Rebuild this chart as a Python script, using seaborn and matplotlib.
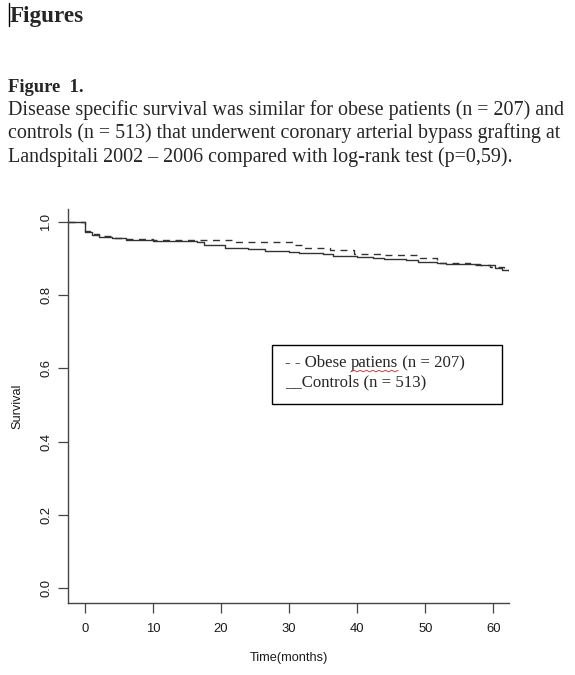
import numpy as np
import pandas as pd
import matplotlib
matplotlib.use("Agg")
import matplotlib.pyplot as plt
from matplotlib.lines import Line2D
from matplotlib.patches import Rectangle
import seaborn as sns

sns.set_theme(style="ticks")
plt.rcParams['font.family'] = ['Liberation Sans', 'DejaVu Sans']

# Kaplan-Meier step values
obese_time = [-2.5, 0, 0.7, 2, 4, 6, 10, 22, 30.5, 32, 36, 39.5, 44, 49.2, 51.7, 56.5, 59.5, 61.5, 62.3]
obese_surv = [1.0, 0.975, 0.967, 0.962, 0.957, 0.953, 0.951, 0.944, 0.936, 0.928, 0.922, 0.913, 0.909, 0.900, 0.888, 0.881, 0.876, 0.869, 0.868]

ctrl_time = [-2.5, 0, 1, 2, 4, 6, 10, 16.5, 17.5, 20.5, 24, 26.5, 30, 31.5, 35, 36.5, 40, 42.3, 44,
             47.2, 49, 51.7, 53, 58, 60.2, 61.2, 62.3]
ctrl_surv = [1.0, 0.972, 0.963, 0.959, 0.955, 0.951, 0.948, 0.944, 0.936, 0.929, 0.925, 0.921, 0.918, 0.914,
             0.911, 0.907, 0.905, 0.902, 0.899, 0.895, 0.891, 0.887, 0.884, 0.881, 0.874, 0.869, 0.868]

x_ticks = [0, 10, 20, 30, 40, 50, 60]
y_ticks = [0.0, 0.2, 0.4, 0.6, 0.8, 1.0]

W, H = 575, 675
fig = plt.figure(figsize=(W / 100, H / 100), dpi=100)
fig.patch.set_facecolor("white")
ax = fig.add_axes([68 / W, 1 - 603 / H, 441 / W, 394 / H])

obese = pd.DataFrame({"time": obese_time, "surv": obese_surv})
ctrl = pd.DataFrame({"time": ctrl_time, "surv": ctrl_surv})

sns.lineplot(data=ctrl, x="time", y="surv", ax=ax, color="#333333", lw=1.0,
             drawstyle="steps-post", estimator=None)
sns.lineplot(data=obese, x="time", y="surv", ax=ax, color="#333333", lw=1.0,
             drawstyle="steps-post", estimator=None, linestyle=(0, (5, 4)))

ax.set_xlim(-2.5, 62.3)
ax.set_ylim(-0.04, 1.035)
ax.set_xticks(x_ticks)
ax.set_yticks(y_ticks)
ax.set_xticklabels([str(t) for t in x_ticks])
ax.set_yticklabels(["%.1f" % t for t in y_ticks], rotation=90, va="center")
sns.despine(ax=ax)
for s in ["left", "bottom"]:
    ax.spines[s].set_color("#444444")
    ax.spines[s].set_linewidth(1.0)
ax.tick_params(axis="both", length=7.5, width=0.9, color="#444444", labelsize=9.4,
               labelcolor="#1a1a1a")
ax.tick_params(axis="x", pad=7)
ax.tick_params(axis="y", pad=4)
ax.set_xlabel("Time(months)", fontsize=9.2, color="#1a1a1a", labelpad=12)
ax.set_ylabel("Survival", fontsize=9.2, color="#1a1a1a", labelpad=12)
ax.grid(False)

# document text above the chart
serif = ["Liberation Serif", "DejaVu Serif"]


def px(x, y):
    return x / W, 1 - y / H


fig.text(*px(10, 22), "Figures", family=serif, weight="bold", fontsize=16.7, va="baseline")
fig.add_artist(Line2D([9 / W, 9 / W], [1 - 3 / H, 1 - 26 / H], color="black", lw=1))
fig.text(*px(8, 91.7), "Figure  1.", family=serif, weight="bold", fontsize=13.4, va="baseline")
caption = [
    "Disease specific survival was similar for obese patients (n = 207) and",
    "controls (n = 513) that underwent coronary arterial bypass grafting at",
    "Landspitali 2002 \u2013 2006 compared with log-rank test (p=0,59).",
]
for i, line in enumerate(caption):
    fig.text(*px(8, 115 + i * 23.4), line, family=serif, fontsize=14.4, va="baseline")

# legend box as pasted in the document
fig.add_artist(Rectangle(px(272, 404), 230 / W, 59 / H, transform=fig.transFigure,
                         fill=False, edgecolor="black", lw=1))
t1 = fig.text(*px(285, 367.3), "- - Obese ", family=serif, fontsize=12.1, va="baseline")
t2 = ax.annotate("patiens", xy=(1, 0), xycoords=t1, va="bottom", ha="left",
                 family=serif, fontsize=12.1)
ax.annotate(" (n = 207)", xy=(1, 0), xycoords=t2, va="bottom", ha="left",
            family=serif, fontsize=12.1)
fig.text(*px(285, 386.7), "__Controls (n = 513)", family=serif, fontsize=12.1, va="baseline")

# red spell-check squiggle under "patiens"
fig.canvas.draw()
bb = t2.get_window_extent().transformed(fig.transFigure.inverted())
xs = np.linspace(bb.x0, bb.x1, 16)
ys = bb.y0 - 0.5 / H + np.where(np.arange(16) % 2 == 0, 0, 1.5 / H)
fig.add_artist(Line2D(xs, ys, color="#d04040", lw=0.7))

fig.savefig("out.png", dpi=100)
